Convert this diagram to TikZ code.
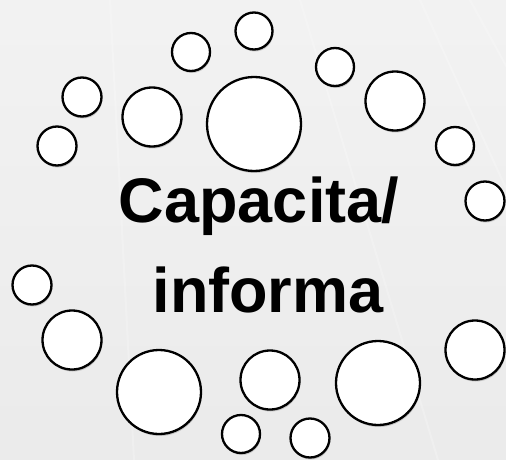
\documentclass[tikz,border=0pt]{standalone}
\usepackage{fontspec}
\setmainfont{Liberation Sans}
\usetikzlibrary{shadows}
\begin{document}
\begin{tikzpicture}[x=1pt,y=-1pt,
  bubble/.style={circle,draw=black,line width=2.3pt,fill=white,inner sep=0pt,
    minimum size=#1,
    drop shadow={shadow xshift=0.8pt,shadow yshift=-2pt,opacity=0.25,fill=black!70}},
  word/.style={anchor=base,inner sep=0pt,font=\fontsize{63}{63}\selectfont\bfseries}]
  % background
  \shade[top color=black!5,bottom color=black!8] (0,0) rectangle (506,460);
  \useasboundingbox (0,0) rectangle (506,460);
  % faint diagonal streaks
  \foreach \a/\b in {110/40,300/230,420/350,470/420}
    \draw[white,line width=2pt,opacity=0.22] (\a,0) -- (\a+\b*0.6,460);
  % bubbles
  \node[bubble=37pt] (b1)  at (254,31)  {};
  \node[bubble=38pt] (b2)  at (191,52)  {};
  \node[bubble=39pt] (b3)  at (82,97)   {};
  \node[bubble=59pt] (b4)  at (152,117) {};
  \node[bubble=94pt] (b5)  at (254,124) {};
  \node[bubble=38pt] (b6)  at (335,67)  {};
  \node[bubble=59pt] (b7)  at (395,101) {};
  \node[bubble=39pt] (b8)  at (57,146)  {};
  \node[bubble=38pt] (b9)  at (455,146) {};
  \node[bubble=39pt] (b10) at (485,201) {};
  \node[bubble=39pt] (b11) at (32,285)  {};
  \node[bubble=59pt] (b12) at (72,340)  {};
  \node[bubble=84pt] (b13) at (159,392) {};
  \node[bubble=59pt] (b14) at (270,380) {};
  \node[bubble=38pt] (b15) at (241,434) {};
  \node[bubble=39pt] (b16) at (310,438) {};
  \node[bubble=84pt] (b17) at (378,383) {};
  \node[bubble=59pt] (b18) at (475,350) {};
  % title text
  \node[word] (t1) at (259,222) {Capacita/};
  \node[word] (t2) at (268,312) {informa};
\end{tikzpicture}
\end{document}
